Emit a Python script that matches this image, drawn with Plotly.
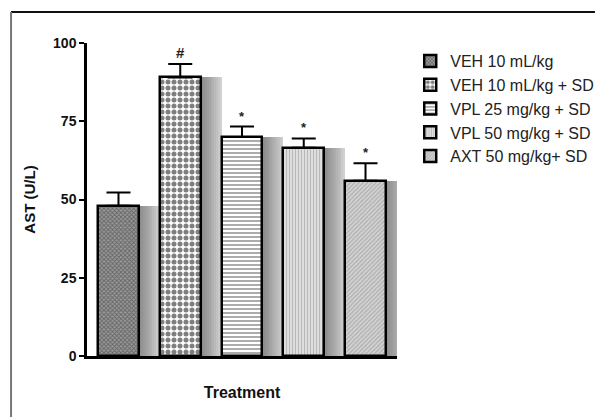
import plotly.graph_objects as go

groups = ["VEH 10 mL/kg", "VEH 10 mL/kg + SD", "VPL 25 mg/kg + SD",
          "VPL 50 mg/kg + SD", "AXT 50 mg/kg+ SD"]
ast_mean = [48, 89, 70, 66.5, 56]
ast_sd = [4.2, 4.3, 3.3, 3.0, 5.6]
marks = ["", "#", "*", "*", "*"]
y_ticks = [0, 25, 50, 75, 100]

patterns = [
    dict(shape="x", size=3, solidity=0.5, fgcolor="#2e2e2e", bgcolor="#9a9a9a"),
    dict(shape=".", size=6, solidity=0.55, fgcolor="#000000", bgcolor="#ffffff"),
    dict(shape="-", size=4, solidity=0.35, fgcolor="#111111", bgcolor="#ffffff"),
    dict(shape="|", size=3, solidity=0.45, fgcolor="#8a8a8a", bgcolor="#e6e6e6"),
    dict(shape="/", size=3, solidity=0.45, fgcolor="#8c8c8c", bgcolor="#d4d4d4"),
]

xs = list(range(len(groups)))
fig = go.Figure()

# soft drop shadows behind the bars (fill the gaps with a grey gradient)
shadow_layers = [(0.18, 0.34)] + [(0.035, 0.34 - 0.03 * k) for k in range(1, 11)]
for alpha, extra in shadow_layers:
    fig.add_trace(go.Bar(
        x=xs, y=ast_mean, width=0.66 + extra, offset=-0.33,
        marker=dict(color=f"rgba(0,0,0,{alpha})", line=dict(width=0)),
        showlegend=False, hoverinfo="skip"))

for i, g in enumerate(groups):
    fig.add_trace(go.Bar(
        x=[xs[i]], y=[ast_mean[i]], name=g, width=0.66, offset=-0.33,
        marker=dict(color=patterns[i]["bgcolor"], pattern=patterns[i],
                    line=dict(color="black", width=2.5)),
        error_y=dict(type="data", symmetric=False, array=[ast_sd[i]],
                     arrayminus=[0], color="black", thickness=2, width=12),
    ))

for i, m in enumerate(marks):
    if m:
        fig.add_annotation(x=xs[i], y=ast_mean[i] + ast_sd[i], text=f"<b>{m}</b>",
                           showarrow=False, yanchor="bottom", yshift=1,
                           font=dict(family="Liberation Sans", size=15 if m == "#" else 13,
                                     color="#222"))

# frame lines (top and left) of the original picture
fig.add_shape(type="line", xref="paper", yref="paper", x0=-0.245, x1=1.7,
              y0=1.099, y1=1.099, line=dict(color="#111", width=2))
fig.add_shape(type="line", xref="paper", yref="paper", x0=-0.245, x1=-0.245,
              y0=1.099, y1=-0.25, line=dict(color="#777", width=2))

fig.update_layout(
    width=595, height=409,
    margin=dict(l=79, r=206, t=35, b=61),
    paper_bgcolor="white", plot_bgcolor="rgba(0,0,0,0)",
    barmode="overlay", bargap=0,
    font=dict(family="Liberation Sans", color="#111"),
    xaxis=dict(range=[-0.51, 4.51], showticklabels=False, ticks="",
               showline=True, linecolor="black", linewidth=2.5,
               showgrid=False, zeroline=False,
               title=dict(text="<b>Treatment</b>", font=dict(size=16), standoff=30)),
    yaxis=dict(range=[0, 100], tickvals=y_ticks,
               ticktext=[f"<b>{t}</b>" for t in y_ticks],
               ticks="outside", ticklen=5, tickwidth=2, tickcolor="black",
               tickfont=dict(size=14), showline=True, linecolor="black",
               linewidth=2.5, showgrid=False, zeroline=False,
               title=dict(text="<b>AST (U/L)</b>", font=dict(size=15), standoff=14)),
    legend=dict(xref="container", yref="container", x=0.676, y=0.912,
                xanchor="left", yanchor="top",
                font=dict(size=16, color="#222"), bgcolor="rgba(0,0,0,0)",
                tracegroupgap=0, itemwidth=30),
)

fig.write_html("out.html")
